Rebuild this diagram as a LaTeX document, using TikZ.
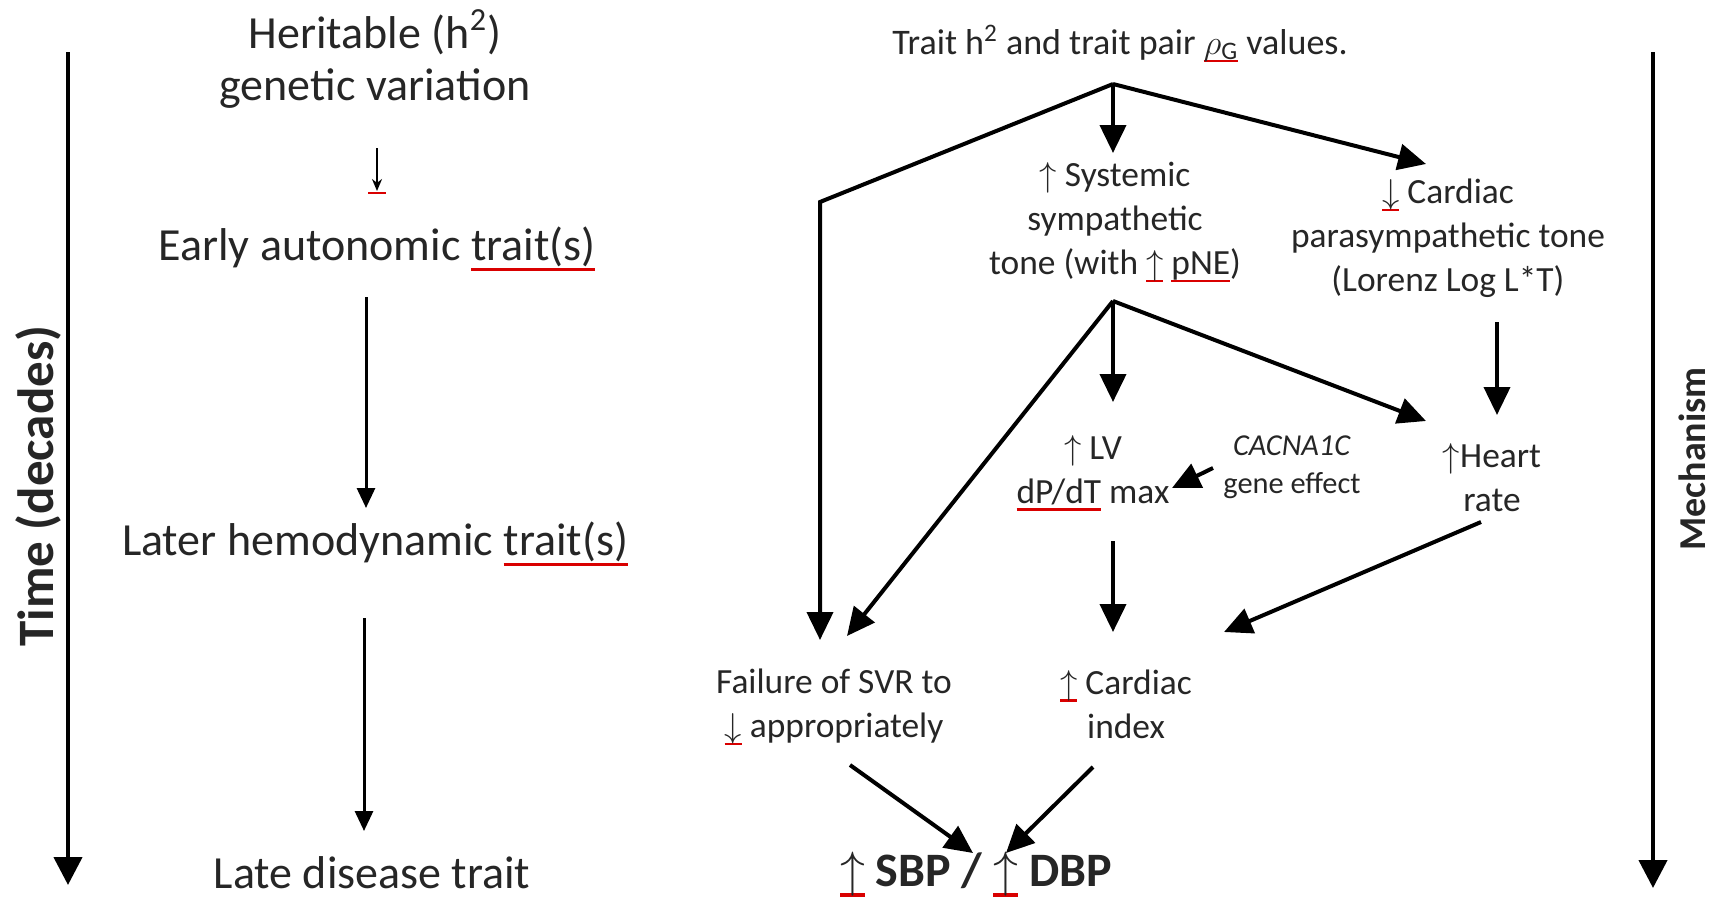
\documentclass[tikz,border=0pt]{standalone}
\usepackage{fontspec}
\setmainfont{Carlito}
\usetikzlibrary{arrows.meta}
\newcommand\rul[1]{\setbox0\hbox{#1}\rlap{\textcolor{red!85!black}{\rule[-0.22em]{\wd0}{0.07em}}}\box0\relax}
\newcommand\up{$\uparrow$}
\newcommand\dn{$\downarrow$}
\begin{document}
\begin{tikzpicture}[x=0.5pt,y=-0.5pt,
  txt/.style={inner sep=0pt, align=center, text=black!85},
  big/.style={txt, font=\fontsize{23}{26}\selectfont},
  med/.style={txt, font=\fontsize{17.7}{22}\selectfont},
  arrR/.style={line width=2pt, -{Triangle[length=14pt,width=13pt]}},
  arrL/.style={line width=1.5pt, -{Triangle[length=10pt,width=9pt]}},
  arrT/.style={line width=2.2pt, -{Triangle[length=14pt,width=14pt]}},
]
\fill[white] (0,0) rectangle (1714,900);
\useasboundingbox (0,0) rectangle (1714,900);

% left column
\node[big] (herit) at (375,59) {Heritable (h\textsuperscript{2})\\genetic variation};
\node[big] (early) at (377,249) {Early autonomic \rul{trait(s)}};
\node[big] (later) at (375,544) {Later hemodynamic \rul{trait(s)}};
\node[big] (late) at (372,873) {Late disease trait};
\node[txt, font=\fontsize{25.5}{28}\selectfont\bfseries, rotate=90] (time) at (38,486) {Time (decades)};
\node[txt, font=\fontsize{19}{23}\selectfont\bfseries, rotate=90] (mech) at (1692,459) {Mechanism};

% right diagram
\node[txt, font=\fontsize{18}{21}\selectfont] (trait) at (1120,44) {Trait h\textsuperscript{2} and trait pair \rul{$\rho_{\mathrm{G}}$} values.};
\node[med] (sym) at (1115,222) {\up\ Systemic\\sympathetic\\tone (with \rul{\up} \rul{pNE})};
\node[med] (para) at (1448,238) {\rul{\dn} Cardiac\\parasympathetic tone\\(Lorenz Log L*T)};
\node[med] (lv) at (1093,473) {\up\ LV\\\rul{dP/dT} max};
\node[txt, font=\fontsize{15.2}{19}\selectfont] (cac) at (1292,467) {\textit{CACNA1C}\\gene effect};
\node[med] (heart) at (1492,478) {\up Heart\\rate};
\node[med] (svr) at (834,707) {Failure of SVR to\\\rul{\dn} appropriately};
\node[med] (ci) at (1126,704) {\rul{\up} Cardiac\\index};
\node[txt, font=\fontsize{24}{28}\selectfont\bfseries] (bp) at (976,874) {\rul{\up} SBP / \rul{\up} DBP};

\coordinate (br1) at (1113,84);
\coordinate (cornerL) at (820,202);
\coordinate (br2) at (1113,301);
\coordinate (tA) at (68,52);
\coordinate (tB) at (68,885);
\coordinate (mA) at (1653,52);
\coordinate (mB) at (1653,888);

\draw[arrT] (tA) -- (tB);
\draw[arrT] (mA) -- (mB);

\draw[line width=1pt, -{Stealth[length=6pt,width=5pt]}] ([shift={(2,89)}]herit.center) -- ([shift={(0,-58)}]early.center);
\draw[red!85!black, line width=1pt] ([shift={(-9,-56)}]early.center) -- ([shift={(9,-56)}]early.center);
\draw[arrL] ([shift={(-11,48)}]early.center) -- ([shift={(-9,-36)}]later.center);
\draw[arrL] ([shift={(-11,74)}]later.center) -- ([shift={(-8,-42)}]late.center);

\draw[arrR] (br1) -- ([shift={(-2,-69)}]sym.center);
\draw[arrR] (br1) -- ([shift={(-22,-74)}]para.center);
\draw[arrR] (br1) -- (cornerL) -- ([shift={(-14,-67)}]svr.center);
\draw[arrR] (br2) -- ([shift={(20,-71)}]lv.center);
\draw[arrR] (br2) -- ([shift={(-66,-57)}]heart.center);
\draw[arrR] (br2) -- ([shift={(13,-71)}]svr.center);
\draw[arrR] ([shift={(49,84)}]para.center) -- ([shift={(5,-63)}]heart.center);
\draw[arrR] ([shift={(-79,1)}]cac.center) -- ([shift={(79,15)}]lv.center);
\draw[arrR] ([shift={(20,68)}]lv.center) -- ([shift={(-13,-72)}]ci.center);
\draw[arrR] ([shift={(-11,44)}]heart.center) -- ([shift={(98,-72)}]ci.center);
\draw[arrR] ([shift={(16,58)}]svr.center) -- ([shift={(-3,-21)}]bp.center);
\draw[arrR] ([shift={(-33,63)}]ci.center) -- ([shift={(30,-21)}]bp.center);
\end{tikzpicture}
\end{document}
